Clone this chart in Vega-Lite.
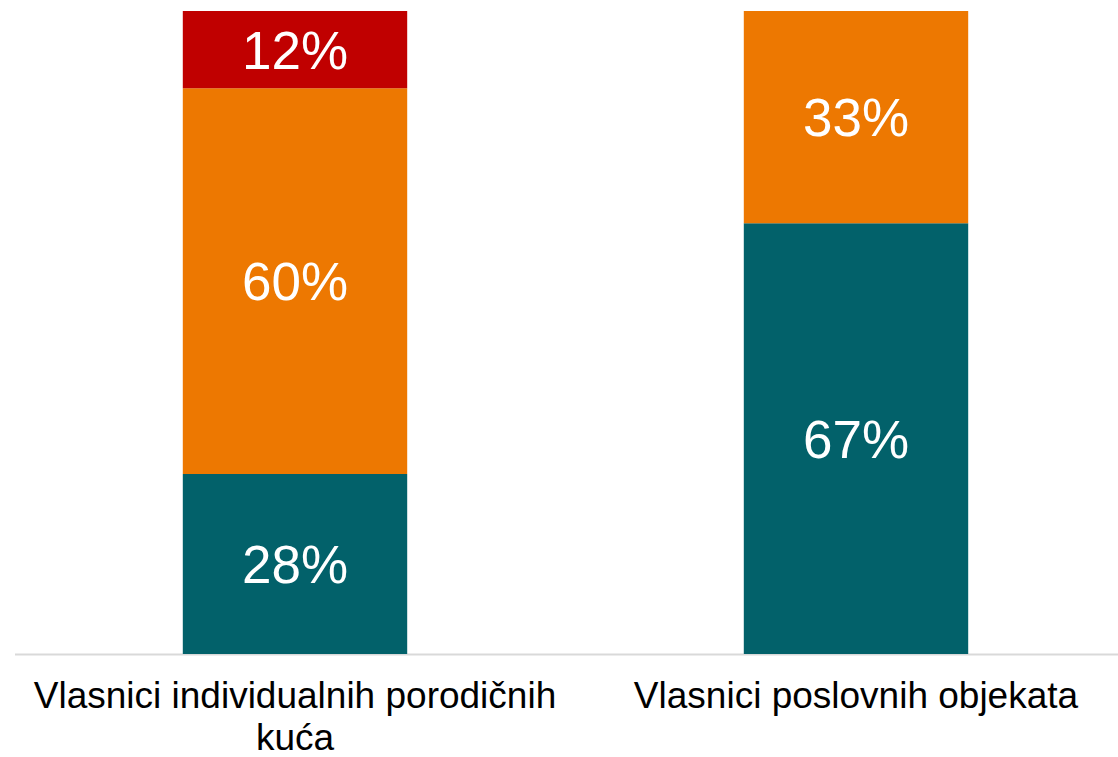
{
  "$schema": "https://vega.github.io/schema/vega-lite/v6.json",
  "autosize": "none",
  "width": 1122,
  "height": 643,
  "padding": {"left": 14.5, "top": 11, "right": 0, "bottom": 103},
  "background": "white",
  "config": {"view": {"stroke": null}, "font": "Liberation Sans"},
  "data": {
    "values": [
      {"group": "Vlasnici individualnih porodičnih kuća", "segment": "Segment 1", "order": 1, "share": 0.28},
      {"group": "Vlasnici individualnih porodičnih kuća", "segment": "Segment 2", "order": 2, "share": 0.60},
      {"group": "Vlasnici individualnih porodičnih kuća", "segment": "Segment 3", "order": 3, "share": 0.12},
      {"group": "Vlasnici poslovnih objekata", "segment": "Segment 1", "order": 1, "share": 0.67},
      {"group": "Vlasnici poslovnih objekata", "segment": "Segment 2", "order": 2, "share": 0.33}
    ]
  },
  "transform": [
    {"stack": "share", "groupby": ["group"], "sort": [{"field": "order", "order": "ascending"}], "as": ["y0", "y1"]},
    {"calculate": "(datum.y0 + datum.y1) / 2", "as": "ymid"}
  ],
  "encoding": {
    "x": {
      "field": "group",
      "type": "nominal",
      "sort": null,
      "scale": {"paddingInner": 0.6, "paddingOuter": 0.3},
      "axis": {
        "title": null,
        "labelAngle": 0,
        "labelFontSize": 37,
        "labelColor": "#000000",
        "labelFont": "Liberation Sans",
        "labelLimit": 0,
        "labelPadding": 24,
        "labelLineHeight": 42,
        "labelExpr": "datum.label == 'Vlasnici individualnih porodičnih kuća' ? ['Vlasnici individualnih porodičnih', 'kuća'] : datum.label",
        "ticks": false,
        "domainColor": "#d9d9d9",
        "domainWidth": 2
      }
    }
  },
  "layer": [
    {
      "mark": {"type": "bar"},
      "encoding": {
        "y": {"field": "y0", "type": "quantitative", "scale": {"domain": [0, 1]}, "axis": null},
        "y2": {"field": "y1"},
        "color": {
          "field": "segment",
          "type": "nominal",
          "scale": {"domain": ["Segment 1", "Segment 2", "Segment 3"], "range": ["#02616A", "#ED7801", "#C00000"]},
          "legend": null
        }
      }
    },
    {
      "mark": {"type": "text", "color": "white", "fontSize": 53, "font": "Liberation Sans", "baseline": "middle", "dy": 3},
      "encoding": {
        "y": {"field": "ymid", "type": "quantitative", "scale": {"domain": [0, 1]}, "axis": null},
        "text": {"field": "share", "type": "quantitative", "format": ".0%"}
      }
    }
  ]
}
